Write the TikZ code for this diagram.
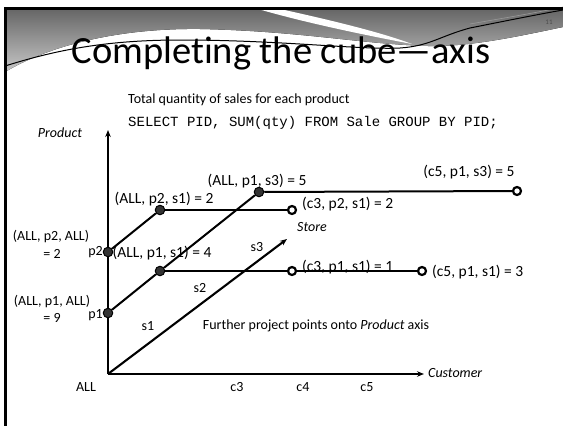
\documentclass[tikz,border=0pt]{standalone}
\usepackage{fontspec}
\setmainfont[Ligatures=NoCommon]{Carlito}
\setmonofont{Liberation Mono}
\usetikzlibrary{arrows.meta}
\tikzset{
  solid dot/.style={circle,draw=black,fill=black!80,line width=1pt,inner sep=0pt,minimum size=9.5pt},
  open dot/.style={circle,draw=black,fill=white,line width=2.2pt,inner sep=0pt,minimum size=8pt},
  lbl/.style={font=\fontsize{14}{16}\selectfont,inner sep=0pt},
  ptlbl/.style={font=\fontsize{15.5}{17}\selectfont,inner sep=0pt},
  axisline/.style={line width=2.1pt,-{Stealth[length=7pt,width=5.5pt]}},
  link/.style={line width=2pt},
}
\begin{document}
\begin{tikzpicture}[x=1pt,y=-1pt]
\useasboundingbox (0,0) rectangle (563,426);
% en-tete gris
\fill[top color=black!60,bottom color=black!22]
  (5,9) -- (563,9) -- (563,27) .. controls (520,36) and (470,47) .. (428,46)
  .. controls (360,44) and (300,31) .. (200,29) .. controls (120,28) and (50,45) .. (5,72) -- cycle;
\fill[white] (258,9) -- (280,9) .. controls (330,20) and (380,32) .. (412,44)
  .. controls (370,36) and (310,24) .. (258,9) -- cycle;
\draw[line width=1pt] (5,66) .. controls (50,52) and (100,40) .. (180,40)
  .. controls (280,40) and (360,50) .. (400,48) .. controls (430,46) and (440,36) .. (470,28)
  .. controls (510,20) and (540,14) .. (563,10);
\draw[black!40,line width=0.6pt] (470,24) .. controls (510,17) and (540,12) .. (563,7);
\draw[line width=2.5pt] (5.5,426) -- (5.5,8.5) -- (563,8.5);
\node[font=\fontsize{38.5}{42}\selectfont,anchor=base,inner sep=0pt] (title) at (281,63) {Completing the cube—axis};
\node[font=\fontsize{7}{8}\selectfont,text=black!70] (pagenum) at (549,22) {11};

% axes
\coordinate (O) at (108,374);
\coordinate (prodtip) at (108,130);
\coordinate (custtip) at (424,374);
\coordinate (storetip) at (287,239);
\draw[axisline] (O) -- (prodtip);
\draw[axisline] (O) -- (custtip);
\draw[axisline] (O) -- (storetip);

% points
\node[solid dot] (p1) at (108,313) {};
\node[solid dot] (p2) at (108,252) {};
\node[solid dot] (ap1s1) at (160,271) {};
\node[solid dot] (ap2s1) at (160,210) {};
\node[solid dot] (ap1s3) at (259,192) {};
\node[open dot] (c3p2s1) at (292,210) {};
\node[open dot] (c3p1s1) at (292,271) {};
\node[open dot] (c5p1s1) at (422,271) {};
\node[open dot] (c5p1s3) at (517,191) {};

\draw[link] (p1) -- (ap1s1);
\draw[link] (ap1s1) -- (ap1s3);
\draw[link] (p2) -- (ap2s1);
\draw[link] (ap2s1) -- (c3p2s1);
\draw[link] (ap1s3) -- (c5p1s3);
\draw[link] (ap1s1) -- (c3p1s1);
\draw[line width=2.6pt] (c3p1s1) -- (c5p1s1);

% textes
\node[lbl,anchor=west] (total) at (128,100) {Total quantity of sales for each product};
\node[font=\fontsize{14}{16}\selectfont\ttfamily,anchor=west,inner sep=0pt] (sql) at (128,123) {SELECT PID, SUM(qty) FROM Sale GROUP BY PID;};
\node[lbl,font=\fontsize{14}{16}\selectfont\itshape] (product) at (60,133) {Product};
\node[lbl,font=\fontsize{14}{16}\selectfont\itshape,anchor=west] (customer) at (428,373) {Customer};
\node[lbl,font=\fontsize{14}{16}\selectfont\itshape] (store) at (312,227) {Store};
\node[ptlbl] (lap1s3) at (257,181) {(ALL, p1, s3) = 5};
\node[ptlbl] (lap2s1) at (164,199) {(ALL, p2, s1) = 2};
\node[ptlbl] (lap1s1) at (162,253) {(ALL, p1, s1) = 4};
\node[ptlbl,anchor=west] (lc3p2s1) at (302,204) {(c3, p2, s1) = 2};
\node[ptlbl] (lc5p1s3) at (469,172) {(c5, p1, s3) = 5};
\node[ptlbl,anchor=west] (lc3p1s1) at (302,267) {(c3, p1, s1) = 1};
\node[ptlbl,anchor=west] (lc5p1s1) at (432,272) {(c5, p1, s1) = 3};
\node[lbl] (lap2) at (51,237) {(ALL, p2, ALL)};
\node[lbl] (lap2v) at (52,254) {= 2};
\node[lbl] (lap1) at (52,302) {(ALL, p1, ALL)};
\node[lbl] (lap1v) at (52,318) {= 9};
\node[lbl,anchor=east] (lp1) at (103,315) {p1};
\node[lbl,anchor=east] (lp2) at (103,252) {p2};
\node[lbl] (ls1) at (148,326) {s1};
\node[lbl] (ls2) at (200,288) {s2};
\node[lbl] (ls3) at (257,247) {s3};
\node[lbl] (further) at (316,326) {Further project points onto \textit{Product} axis};
\node[lbl] (lall) at (86,387) {ALL};
\node[lbl] (lc3) at (237,387) {c3};
\node[lbl] (lc4) at (303,387) {c4};
\node[lbl] (lc5) at (367,387) {c5};
\end{tikzpicture}
\end{document}
